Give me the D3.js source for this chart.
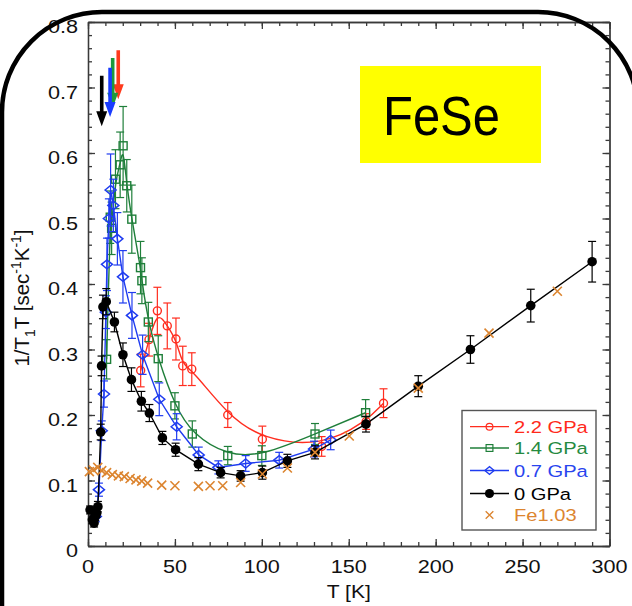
<!DOCTYPE html>
<html>
<head>
<meta charset="utf-8">
<script src="https://cdn.jsdelivr.net/npm/d3@7"></script>
<style>
  html, body { margin: 0; padding: 0; background: #fff; }
  svg { display: block; }
  text { font-family: "Liberation Sans", Arial, sans-serif; }
</style>
</head>
<body>
<svg id="chart" width="632" height="606"></svg>
<script>
// ---- data: 1/T1T of FeSe under pressure ----
const xTicks = [0, 50, 100, 150, 200, 250, 300];
const xTickLabels = ["0", "50", "100", "150", "200", "250", "300"];
const yTicks = [0, 0.1, 0.2, 0.3, 0.4, 0.5, 0.6, 0.7, 0.8];
const yTickLabels = ["0", "0.1", "0.2", "0.3", "0.4", "0.5", "0.6", "0.7", "0.8"];

const seriesNames = ["2.2 GPa", "1.4 GPa", "0.7 GPa", "0 GPa", "Fe1.03"];

const p22T   = [30.3, 35.1, 39.9, 45.6, 50.6, 54.5, 59.7, 80.4, 100.3, 134.4, 160, 170];
const p22V   = [0.268, 0.315, 0.359, 0.336, 0.316, 0.275, 0.27, 0.2, 0.163, 0.152, 0.19, 0.218];
const p22Err = [0.025, 0.025, 0.036, 0.035, 0.032, 0.03, 0.025, 0.019, 0.02, 0.015, 0.012, 0.022];

const p14T   = [10.7, 12.8, 13.6, 15.8, 18.5, 20.2, 22.3, 25.2, 30.2, 31.0, 34.7, 40.4, 50.0, 60.0, 80.4, 100.0, 130.6, 159.7];
const p14V   = [0.285, 0.502, 0.485, 0.56, 0.582, 0.611, 0.55, 0.499, 0.425, 0.405, 0.342, 0.286, 0.214, 0.171, 0.138, 0.138, 0.171, 0.2035];
const p14Err = [0.03, 0.04, 0.04, 0.045, 0.05, 0.06, 0.04, 0.052, 0.04, 0.035, 0.03, 0.035, 0.02, 0.02, 0.014, 0.015, 0.016, 0.02];

const p07T   = [4.5, 6.3, 7.9, 9.2, 10.3, 10.9, 12.0, 13.0, 14.6, 16.9, 20.1, 25.3, 31.4, 41.0, 51.0, 63.7, 75.0, 90.7, 110.0, 130.0, 139.6];
const p07V   = [0.045, 0.086, 0.176, 0.232, 0.357, 0.43, 0.5, 0.5435, 0.52, 0.469, 0.411, 0.352, 0.292, 0.224, 0.182, 0.139, 0.12, 0.126, 0.131, 0.148, 0.162];
const p07Err = [0.008, 0.01, 0.015, 0.02, 0.025, 0.04, 0.03, 0.055, 0.04, 0.04, 0.04, 0.035, 0.03, 0.025, 0.02, 0.012, 0.01, 0.012, 0.012, 0.012, 0.015];

const p0T   = [1.2, 2.5, 3.5, 4.2, 5.0, 5.7, 7.3, 7.8, 8.6, 10.5, 15.2, 20.1, 25.0, 30.7, 35.3, 42.8, 50.4, 63.5, 76.3, 87.8, 100.3, 114.7, 130.6, 159.9, 190, 220, 254.7, 290];
const p0V   = [0.055, 0.04, 0.035, 0.045, 0.05, 0.06, 0.174, 0.275, 0.365, 0.373, 0.342, 0.292, 0.254, 0.221, 0.203, 0.165, 0.147, 0.125, 0.112, 0.107, 0.112, 0.13, 0.143, 0.186, 0.244, 0.3, 0.367, 0.434];
const p0Err = [0.006, 0.006, 0.006, 0.006, 0.006, 0.008, 0.012, 0.015, 0.018, 0.02, 0.015, 0.018, 0.018, 0.015, 0.013, 0.01, 0.01, 0.01, 0.008, 0.008, 0.01, 0.01, 0.01, 0.012, 0.016, 0.021, 0.025, 0.031];

const fe103T = [0.8, 3.1, 5.6, 7.9, 10.7, 14.0, 17.5, 20.9, 24.2, 27.6, 30.9, 34.3, 42.4, 50.0, 63.5, 70.2, 77.5, 87.8, 100.3, 114.7, 130.6, 150.3, 190.0, 230.7, 270.0];
const fe103V = [0.1135, 0.116, 0.12, 0.115, 0.112, 0.109, 0.107, 0.106, 0.103, 0.101, 0.099, 0.096, 0.093, 0.092, 0.091, 0.092, 0.092, 0.097, 0.11, 0.119, 0.143, 0.168, 0.241, 0.325, 0.389];

// transition arrows: temperature, tail and tip height
const arrowT   = [17.4, 14.2, 12.7, 7.9];
const arrowTop = [0.757, 0.745, 0.730, 0.718];
const arrowTip = [0.682, 0.669, 0.655, 0.641];
const arrowColors = ["#ff3a1c", "#1d9a3c", "#1a3cff", "#000000"];

// ---- layout ----
const svg = d3.select("#chart");
const x = d3.scaleLinear().domain([0, 300]).range([88, 609.5]);
const y = d3.scaleLinear().domain([0, 0.8]).range([546, 22]);
const axisColor = "#3a3a3a";
const TX = 1.17; // horizontal text stretch

function stretchedText(g, px, py, str, opts) {
  const t = g.append("text")
    .attr("transform", `translate(${px},${py}) scale(${opts.sx || TX},1)`)
    .attr("text-anchor", opts.anchor || "start")
    .attr("font-size", opts.size)
    .attr("fill", opts.fill || "#111")
    .text(str);
  return t;
}

// ---- axes frame with inward ticks ----
const minorX = d3.range(0, 301, 10);
const minorY = d3.range(0, 0.8001, 0.02);

function addAxis(axisGen, transform, ticks, size) {
  const g = svg.append("g").attr("transform", transform)
    .call(axisGen.tickValues(ticks).tickSize(size).tickSizeOuter(0).tickFormat(""));
  g.selectAll("path, line").attr("stroke", axisColor).attr("stroke-width", 1.3);
  return g;
}
addAxis(d3.axisBottom(x), `translate(0,${y(0)})`, minorX, -4);
addAxis(d3.axisBottom(x), `translate(0,${y(0)})`, xTicks, -7);
addAxis(d3.axisTop(x), `translate(0,${y(0.8)})`, minorX, -4);
addAxis(d3.axisTop(x), `translate(0,${y(0.8)})`, xTicks, -7);
addAxis(d3.axisLeft(y), `translate(${x(0)},0)`, minorY, -4);
addAxis(d3.axisLeft(y), `translate(${x(0)},0)`, yTicks, -7);
addAxis(d3.axisRight(y), `translate(${x(300)},0)`, minorY, -4);
addAxis(d3.axisRight(y), `translate(${x(300)},0)`, yTicks, -7);

// tick labels
const labels = svg.append("g");
xTicks.forEach((t, i) => stretchedText(labels, x(t), 573, xTickLabels[i], { size: 18.5, anchor: "middle" }));
yTicks.forEach((t, i) => stretchedText(labels, 78, y(t) + 11, yTickLabels[i], { size: 18.5, anchor: "end" }));

// axis titles
stretchedText(labels, x(150), 598, "T [K]", { size: 18, anchor: "middle" });
const yTitle = labels.append("text")
  .attr("transform", `translate(29,${298}) rotate(-90)`)
  .attr("text-anchor", "middle")
  .attr("font-size", 20.5)
  .attr("fill", "#111");
yTitle.append("tspan").text("1/T");
yTitle.append("tspan").attr("font-size", 14).attr("dy", 6).text("1");
yTitle.append("tspan").attr("dy", -6).text("T [sec");
yTitle.append("tspan").attr("font-size", 14).attr("dy", -8).text("-1");
yTitle.append("tspan").attr("dy", 8).text("K");
yTitle.append("tspan").attr("font-size", 14).attr("dy", -8).text("-1");
yTitle.append("tspan").attr("dy", 8).text("]");

// ---- series ----
const plot = svg.append("g");
const symbols = {
  circle: (g, c) => g.append("circle").attr("r", 4).attr("fill", "none").attr("stroke", c).attr("stroke-width", 1.4),
  square: (g, c) => g.append("rect").attr("x", -4).attr("y", -4).attr("width", 8).attr("height", 8).attr("fill", "none").attr("stroke", c).attr("stroke-width", 1.4),
  diamond: (g, c) => g.append("path").attr("d", "M-5.5,0L0,-4.5L5.5,0L0,4.5Z").attr("fill", "none").attr("stroke", c).attr("stroke-width", 1.5),
  dot: (g, c) => g.append("circle").attr("r", 4.8).attr("fill", c),
  cross: (g, c) => g.append("path").attr("d", "M-4.5,-4.5L4.5,4.5M-4.5,4.5L4.5,-4.5").attr("stroke", c).attr("stroke-width", 1.6)
};

function drawSeries(T, V, E, color, symbol, curve) {
  const pts = T.map((t, i) => ({ t, v: V[i], e: E ? E[i] : 0 }));
  const g = plot.append("g");
  if (curve) {
    g.append("path")
      .attr("d", d3.line().x(d => x(d.t)).y(d => y(d.v)).curve(curve)(pts))
      .attr("fill", "none").attr("stroke", color).attr("stroke-width", 1.4);
  }
  if (E) {
    const eb = g.append("g").attr("stroke", color).attr("stroke-width", 1.2);
    pts.forEach(d => {
      const px = x(d.t), top = y(d.v + d.e), bot = y(d.v - d.e);
      eb.append("line").attr("x1", px).attr("x2", px).attr("y1", top).attr("y2", bot);
      eb.append("line").attr("x1", px - 4).attr("x2", px + 4).attr("y1", top).attr("y2", top);
      eb.append("line").attr("x1", px - 4).attr("x2", px + 4).attr("y1", bot).attr("y2", bot);
    });
  }
  pts.forEach(d => {
    const m = g.append("g").attr("transform", `translate(${x(d.t)},${y(d.v)})`);
    symbols[symbol](m, color);
  });
}

const cRed = "#ff2d1f", cGreen = "#1f7f3a", cBlue = "#1f3cf0", cBlack = "#000000", cOrange = "#dc8530";
drawSeries(p22T, p22V, p22Err, cRed, "circle", d3.curveBasis);
drawSeries(p14T, p14V, p14Err, cGreen, "square", d3.curveBasis);
drawSeries(p07T, p07V, p07Err, cBlue, "diamond", d3.curveLinear);
drawSeries(p0T, p0V, p0Err, cBlack, "dot", d3.curveLinear);
drawSeries(fe103T, fe103V, null, cOrange, "cross", null);

// ---- transition arrows ----
const arrows = svg.append("g");
arrowT.forEach((t, i) => {
  const px = x(t), y0 = y(arrowTop[i]), y1 = y(arrowTip[i]);
  const head = 15, hw = 5.5, sw = 1.8;
  arrows.append("path")
    .attr("d", `M${px - sw},${y0}L${px + sw},${y0}L${px + sw},${y1 - head}L${px + hw},${y1 - head}L${px},${y1}L${px - hw},${y1 - head}L${px - sw},${y1 - head}Z`)
    .attr("fill", arrowColors[i]);
});

// ---- legend ----
const legend = svg.append("g");
legend.append("rect").attr("x", 462).attr("y", 410.5).attr("width", 134).attr("height", 119.5)
  .attr("fill", "#fff").attr("stroke", "#555").attr("stroke-width", 1.4);
const legendColors = [cRed, cGreen, cBlue, cBlack, cOrange];
const legendText = ["#ff2a1a", "#258a3f", "#2844ee", "#000000", "#dc8530"];
const legendSymbols = ["circle", "square", "diamond", "dot", "cross"];
const legendRowY = [426.7, 448, 470.5, 493.5, 515];
seriesNames.forEach((name, i) => {
  const ly = legendRowY[i];
  if (i < 4) {
    legend.append("line").attr("x1", 470).attr("x2", 509).attr("y1", ly).attr("y2", ly)
      .attr("stroke", legendColors[i]).attr("stroke-width", 1.3);
  }
  const m = legend.append("g").attr("transform", `translate(489.5,${ly}) scale(${i === 3 ? 0.95 : 0.85})`);
  symbols[legendSymbols[i]](m, legendColors[i]);
  stretchedText(legend, 514, ly + 6, name, { size: 16.5, fill: legendText[i], sx: 1.22 });
});

// ---- FeSe label ----
svg.append("rect").attr("x", 360).attr("y", 66).attr("width", 181).attr("height", 97).attr("fill", "#ffff00");
svg.append("text").attr("x", 383).attr("y", 135)
  .attr("font-family", "Lato, 'Open Sans', sans-serif").attr("font-size", 56).attr("fill", "#000")
  .attr("textLength", 117).attr("lengthAdjust", "spacingAndGlyphs")
  .text("FeSe");

// ---- rounded outer frame ----
svg.append("rect").attr("x", 2).attr("y", 12).attr("width", 636).attr("height", 720)
  .attr("rx", 100).attr("ry", 100)
  .attr("fill", "none").attr("stroke", "#000").attr("stroke-width", 4.5);
</script>
</body>
</html>
